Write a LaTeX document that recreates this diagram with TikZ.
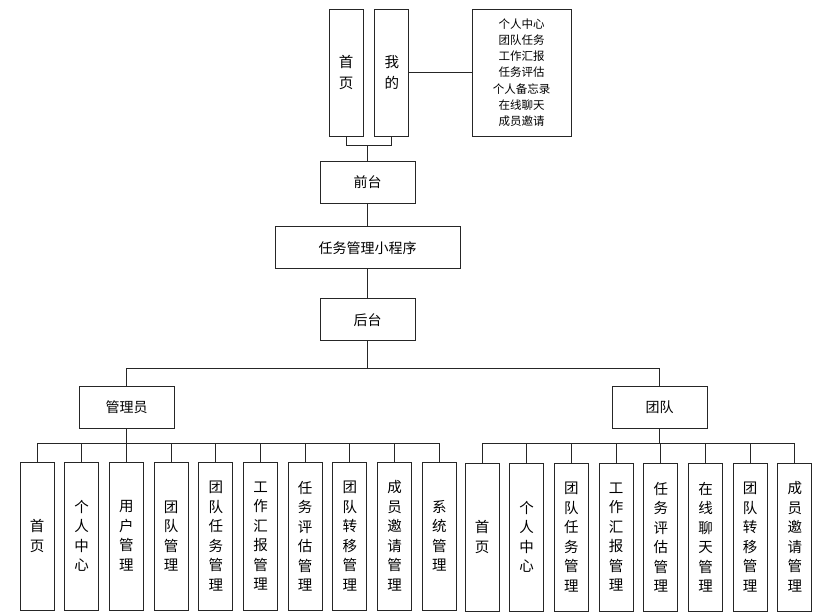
\documentclass[tikz,border=0pt]{standalone}
\usepackage{fontspec}
\setmainfont{Noto Sans CJK SC}
\usetikzlibrary{positioning}

\begin{document}
\begin{tikzpicture}[x=1pt, y=-1pt, line width=0.9pt,
    box/.style = {draw=black!85, text=black, inner sep=0pt, font=\fontsize{14}{16}\selectfont},
    wide/.style = {box, minimum width=95pt, minimum height=42pt},
    tall/.style = {box, minimum width=34pt, minimum height=148pt, align=center,
                   font=\fontsize{14.5}{19.5}\selectfont},
    link/.style = {draw=black!85}]
\useasboundingbox (0,0) rectangle (827,615);
% top row
\node[box, minimum width=34pt, minimum height=127pt, align=center,
      font=\fontsize{14.5}{21}\selectfont] (home) at (346,72.5) {首\\页};
\node[box, minimum width=34pt, minimum height=127pt, align=center,
      font=\fontsize{14.5}{21}\selectfont, right=11pt of home] (mine) {我\\的};
\node[box, minimum width=99pt, minimum height=127pt, align=center,
      font=\fontsize{11.5}{16.2}\selectfont] (list) at (521.5,72.5)
      {个人中心\\团队任务\\工作汇报\\任务评估\\个人备忘录\\在线聊天\\成员邀请};
\node[wide] (front) at (367.5,182) {前台};
\node[wide, minimum width=185pt, below=23pt of front] (app) {任务管理小程序};
\node[wide, below=29pt of app] (back) {后台};
\node[wide] (admin) at (126.5,407) {管理员};
\node[wide] (team) at (659.5,407) {团队};
% admin children
\begin{scope}[node distance=0pt and 9.8pt]
\node[tall] (a1) at (37,536) {首\\页};
\node[tall, right=of a1] (a2) {个\\人\\中\\心};
\node[tall, right=of a2] (a3) {用\\户\\管\\理};
\node[tall, right=of a3] (a4) {团\\队\\管\\理};
\node[tall, right=of a4] (a5) {团\\队\\任\\务\\管\\理};
\node[tall, right=of a5] (a6) {工\\作\\汇\\报\\管\\理};
\node[tall, right=of a6] (a7) {任\\务\\评\\估\\管\\理};
\node[tall, right=of a7] (a8) {团\\队\\转\\移\\管\\理};
\node[tall, right=of a8] (a9) {成\\员\\邀\\请\\管\\理};
\node[tall, right=of a9] (a10) {系\\统\\管\\理};
% team children
\node[tall] (t1) at (482,537) {首\\页};
\node[tall, right=of t1] (t2) {个\\人\\中\\心};
\node[tall, right=of t2] (t3) {团\\队\\任\\务\\管\\理};
\node[tall, right=of t3] (t4) {工\\作\\汇\\报\\管\\理};
\node[tall, right=of t4] (t5) {任\\务\\评\\估\\管\\理};
\node[tall, right=of t5] (t6) {在\\线\\聊\\天\\管\\理};
\node[tall, right=of t6] (t7) {团\\队\\转\\移\\管\\理};
\node[tall, right=of t7] (t8) {成\\员\\邀\\请\\管\\理};
\end{scope}
% connectors
\path[link] (mine) -- (list);
\path[link] (home.south) -- ++(0,9) -| (mine.south);
\path[link] (front.north) -- ++(0,-16);
\path[link] (front) -- (app);
\path[link] (app) -- (back);
\path[link] (back.south) -- ++(0,27) -| (admin.north);
\path[link] (back.south) -- ++(0,27) -| (team.north);
\foreach \c in {a1,a2,a3,a4,a5,a6,a7,a8,a9,a10}
  \path[link] (admin.south) -- ++(0,15) -| (\c.north);
\foreach \c in {t1,t2,t3,t4,t5,t6,t7,t8}
  \path[link] (team.south) -- ++(0,15) -| (\c.north);
\end{tikzpicture}
\end{document}
